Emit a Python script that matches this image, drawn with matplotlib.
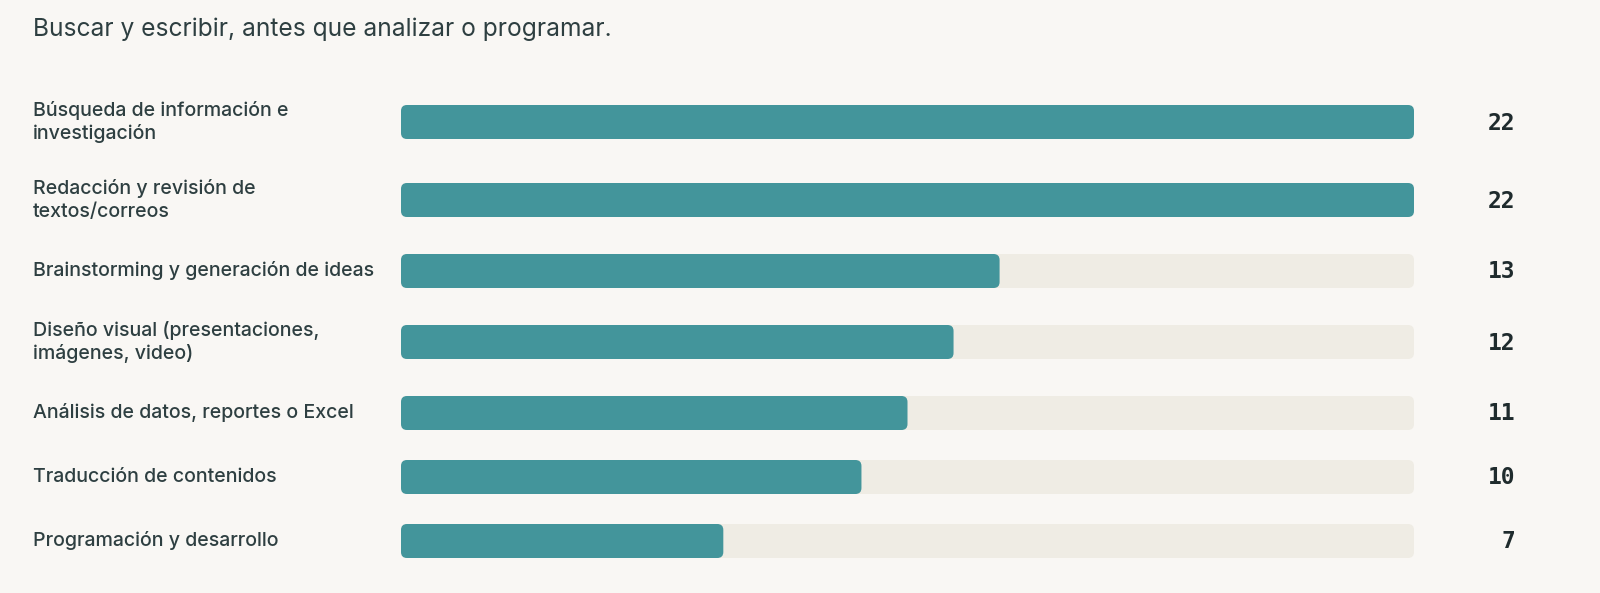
import matplotlib.pyplot as plt
from matplotlib.patches import FancyBboxPatch

categories = [
    "Búsqueda de información e\ninvestigación",
    "Redacción y revisión de\ntextos/correos",
    "Brainstorming y generación de ideas",
    "Diseño visual (presentaciones,\nimágenes, video)",
    "Análisis de datos, reportes o Excel",
    "Traducción de contenidos",
    "Programación y desarrollo",
]
values = [22, 22, 13, 12, 11, 10, 7]
max_value = 22
title = "Buscar y escribir, antes que analizar o programar."

bg = "#f9f7f4"
teal = "#43959b"
track = "#efece4"
ink = "#2e3f41"

W, H = 1600, 593
fig = plt.figure(figsize=(W / 100, H / 100), dpi=100, facecolor=bg)

# axes covers the bar area horizontally, full height in pixel units vertically
x0, x1 = 401, 1414
ax = fig.add_axes([x0 / W, 0, (x1 - x0) / W, 1])
ax.set_facecolor(bg)
ax.set_xlim(0, max_value)
ax.set_ylim(H, 0)
ax.axis("off")

# row centres from number of label lines
ys = []
y = 122
for i, c in enumerate(categories):
    ys.append(y)
    if i + 1 < len(categories):
        n1 = c.count("\n")
        n2 = categories[i + 1].count("\n")
        y += 64 + 7 * n1 + 7 * n2

px_per_unit = (x1 - x0) / max_value
bar_h = 34
r_px = 6

def rbar(width, color, yc):
    p = FancyBboxPatch((0, yc - bar_h / 2), width, bar_h,
                       boxstyle=f"round,pad=0,rounding_size={r_px / px_per_unit}",
                       mutation_aspect=px_per_unit,
                       facecolor=color, edgecolor="none")
    ax.add_patch(p)

for c, v, yc in zip(categories, values, ys):
    rbar(max_value, track, yc)
    rbar(v, teal, yc)
    fig.text(33 / W, 1 - yc / H, c, ha="left", va="center", fontsize=14.1,
             family="Inter", weight="medium", color=ink, linespacing=1.32)
    fig.text(1515 / W, 1 - (yc + 1) / H, str(v), ha="right", va="center", fontsize=16.5,
             family="DejaVu Sans Mono", weight="bold", color="#1f2b2d")

fig.text(33 / W, 1 - 29 / H, title, ha="left", va="center", fontsize=17.7,
         family="Inter", color=ink)

fig.savefig("out.png", dpi=100, facecolor=bg)
